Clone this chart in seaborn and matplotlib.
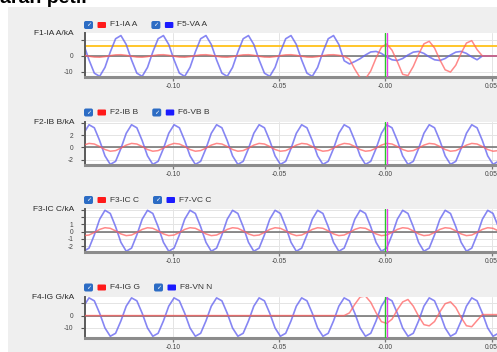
import numpy as np
import matplotlib
matplotlib.use("Agg")
import matplotlib.pyplot as plt
import seaborn as sns
from matplotlib.patches import FancyBboxPatch, Rectangle
from matplotlib.transforms import IdentityTransform, offset_copy

W, H = 497, 352

# ------------------------------------------------------------------
# Data (sample step 2.5 ms, 80 samples)
# ------------------------------------------------------------------
t_start = -0.144375
t_step = 0.0025
time_s = t_start + t_step * np.arange(80)

xticks = [-0.10, -0.05, 0.0, 0.05]
xtick_labels = ["-0.10", "-0.05", "-0.00", "0.05"]
cursor_t = 0.0
ia_pickup = 6.3  # yellow level in the F1 panel

ia_f1 = [
    0.8, 0.4, -0.2, -0.7, -0.8, -0.4, 0.2, 0.7,
    0.8, 0.4, -0.2, -0.7, -0.8, -0.4, 0.2, 0.7,
    0.8, 0.4, -0.2, -0.7, -0.8, -0.4, 0.2, 0.7,
    0.8, 0.4, -0.2, -0.7, -0.8, -0.4, 0.2, 0.7,
    0.8, 0.4, -0.2, -0.7, -0.8, -0.4, 0.2, 0.7,
    0.8, 0.4, -0.2, -0.7, -0.8, -0.4, 0.2, 0.7,
    0.8, 0.4, -0.2, -2.0, -8.3, -13.7, -14.4, -9.4,
    -1.3, 5.5, 7.5, 3.6, -3.6, -11.5, -12.3, -6.6,
    1.1, 7.6, 9.2, 5.0, -2.4, -8.7, -10.1, -5.8,
    1.7, 8.1, 9.6, 4.0, 0.0, 0.0, 0.0, 0.0,
]
va_f5 = [
    12.8, 7.2, -2.5, -10.8, -12.8, -7.2, 2.5, 10.8,
    12.8, 7.2, -2.5, -10.8, -12.8, -7.2, 2.5, 10.8,
    12.8, 7.2, -2.5, -10.8, -12.8, -7.2, 2.5, 10.8,
    12.8, 7.2, -2.5, -10.8, -12.8, -7.2, 2.5, 10.8,
    12.8, 7.2, -2.5, -10.8, -12.8, -7.2, 2.5, 10.8,
    12.8, 7.2, -2.5, -10.8, -12.8, -7.2, 2.5, 10.8,
    12.8, 7.2, -3.0, -5.0, -3.5, -1.7, 0.6, 2.5,
    2.85, 1.6, -0.6, -2.4, -2.85, -1.6, 0.6, 2.4,
    2.85, 1.6, -0.6, -2.4, -2.85, -1.6, 0.6, 2.4,
    2.85, 1.6, -0.6, -2.4, 0.0, 0.0, 0.0, 0.0,
]
ib_f2 = [
    -0.13, 0.36, 0.64, 0.54, 0.13, -0.36, -0.64, -0.54,
    -0.13, 0.36, 0.64, 0.54, 0.13, -0.36, -0.64, -0.54,
    -0.13, 0.36, 0.64, 0.54, 0.13, -0.36, -0.64, -0.54,
    -0.13, 0.36, 0.64, 0.54, 0.13, -0.36, -0.64, -0.54,
    -0.13, 0.36, 0.64, 0.54, 0.13, -0.36, -0.64, -0.54,
    -0.13, 0.36, 0.64, 0.54, 0.13, -0.36, -0.64, -0.54,
    -0.13, 0.36, 0.64, 0.54, 0.13, -0.36, -0.64, -0.54,
    -0.13, 0.36, 0.64, 0.54, 0.13, -0.36, -0.64, -0.54,
    -0.13, 0.36, 0.64, 0.54, 0.13, -0.36, -0.64, -0.54,
    -0.13, 0.36, 0.64, 0.54, 0.13, -0.36, -0.64, -0.54,
]
vb_f6 = [
    -0.2, 2.3, 3.7, 3.2, 1.1, -1.4, -2.8, -2.3,
    -0.2, 2.3, 3.7, 3.2, 1.1, -1.4, -2.8, -2.3,
    -0.2, 2.3, 3.7, 3.2, 1.1, -1.4, -2.8, -2.3,
    -0.2, 2.3, 3.7, 3.2, 1.1, -1.4, -2.8, -2.3,
    -0.2, 2.3, 3.7, 3.2, 1.1, -1.4, -2.8, -2.3,
    -0.2, 2.3, 3.7, 3.2, 1.1, -1.4, -2.8, -2.3,
    -0.2, 2.3, 3.7, 3.2, 1.1, -1.4, -2.8, -2.3,
    -0.2, 2.3, 3.7, 3.2, 1.1, -1.4, -2.8, -2.3,
    -0.2, 2.3, 3.7, 3.2, 1.1, -1.4, -2.8, -2.3,
    -0.2, 2.3, 3.7, 3.2, 1.1, -1.4, -2.8, -2.3,
]
ic_f3 = [
    -0.31, -0.54, -0.46, -0.11, 0.31, 0.54, 0.46, 0.11,
    -0.31, -0.54, -0.46, -0.11, 0.31, 0.54, 0.46, 0.11,
    -0.31, -0.54, -0.46, -0.11, 0.31, 0.54, 0.46, 0.11,
    -0.31, -0.54, -0.46, -0.11, 0.31, 0.54, 0.46, 0.11,
    -0.31, -0.54, -0.46, -0.11, 0.31, 0.54, 0.46, 0.11,
    -0.31, -0.54, -0.46, -0.11, 0.31, 0.54, 0.46, 0.11,
    -0.31, -0.54, -0.46, -0.11, 0.31, 0.54, 0.46, 0.11,
    -0.31, -0.54, -0.46, -0.11, 0.31, 0.54, 0.46, 0.11,
    -0.31, -0.54, -0.46, -0.11, 0.31, 0.54, 0.46, 0.11,
    -0.31, -0.54, -0.46, -0.11, 0.31, 0.54, 0.46, 0.11,
]
vc_f7 = [
    -1.46, -2.68, -2.25, -0.44, 1.70, 2.92, 2.49, 0.68,
    -1.46, -2.68, -2.25, -0.44, 1.70, 2.92, 2.49, 0.68,
    -1.46, -2.68, -2.25, -0.44, 1.70, 2.92, 2.49, 0.68,
    -1.46, -2.68, -2.25, -0.44, 1.70, 2.92, 2.49, 0.68,
    -1.46, -2.68, -2.25, -0.44, 1.70, 2.92, 2.49, 0.68,
    -1.46, -2.68, -2.25, -0.44, 1.70, 2.92, 2.49, 0.68,
    -1.46, -2.68, -2.25, -0.44, 1.70, 2.92, 2.49, 0.68,
    -1.46, -2.68, -2.25, -0.44, 1.70, 2.92, 2.49, 0.68,
    -1.46, -2.68, -2.25, -0.44, 1.70, 2.92, 2.49, 0.68,
    -1.46, -2.68, -2.25, -0.44, 1.70, 2.92, 2.49, 0.68,
]
ig_f4 = [
    0.0, 0.0, 0.0, 0.0, 0.0, 0.0, 0.0, 0.0,
    0.0, 0.0, 0.0, 0.0, 0.0, 0.0, 0.0, 0.0,
    0.0, 0.0, 0.0, 0.0, 0.0, 0.0, 0.0, 0.0,
    0.0, 0.0, 0.0, 0.0, 0.0, 0.0, 0.0, 0.0,
    0.0, 0.0, 0.0, 0.0, 0.0, 0.0, 0.0, 0.0,
    0.0, 0.0, 0.0, 0.0, 0.0, 0.0, 0.0, 0.0,
    0.0, 0.0, 0.0, 2.2, 9.1, 15.0, 15.8, 10.7,
    2.3, -4.9, -6.3, -2.9, 4.7, 11.0, 13.0, 7.6,
    -0.5, -7.3, -8.3, -4.8, 3.0, 9.6, 11.1, 6.5,
    -1.5, -8.2, -9.0, -4.0, 0.8, 0.8, 0.8, 0.8,
]
vn_f8 = [
    -4.3, 7.6, 14.3, 11.9, 1.9, -10.0, -16.7, -14.3,
    -4.3, 7.6, 14.3, 11.9, 1.9, -10.0, -16.7, -14.3,
    -4.3, 7.6, 14.3, 11.9, 1.9, -10.0, -16.7, -14.3,
    -4.3, 7.6, 14.3, 11.9, 1.9, -10.0, -16.7, -14.3,
    -4.3, 7.6, 14.3, 11.9, 1.9, -10.0, -16.7, -14.3,
    -4.3, 7.6, 14.3, 11.9, 1.9, -10.0, -16.7, -14.3,
    -4.3, 7.6, 14.3, 11.9, 1.9, -10.0, -16.7, -14.3,
    -4.3, 7.6, 14.3, 11.9, 1.9, -10.0, -16.7, -14.3,
    -4.3, 7.6, 14.3, 11.9, 1.9, -10.0, -16.7, -14.3,
    -4.3, 7.6, 14.3, 11.9, 1.9, -10.0, -16.7, -14.3,
]

# ------------------------------------------------------------------
# Panel layout (pixel boxes in the 497x352 image)
# ------------------------------------------------------------------
panels = [
    dict(top=33, bottom=77, legend_y=25, ylim=(-13.2, 14.4),
         yticks=[-10, 0, 10], yticklabels=["-10", "0", ""],
         ylabel="F1-IA A/kA", names=("F1-IA A", "F5-VA A"),
         current=ia_f1, voltage=va_f5, pickup=True),
    dict(top=122, bottom=165, legend_y=112.5, ylim=(-2.9, 4.15),
         yticks=[-2, 0, 2, 4], yticklabels=["-2", "0", "2", ""],
         ylabel="F2-IB B/kA", names=("F2-IB B", "F6-VB B"),
         current=ib_f2, voltage=vb_f6, pickup=False),
    dict(top=209, bottom=252, legend_y=200, ylim=(-2.78, 3.1),
         yticks=[-2, -1, 0, 1, 2, 3], yticklabels=["-2", "-1", "0", "1", "", ""],
         ylabel="F3-IC C/kA", names=("F3-IC C", "F7-VC C"),
         current=ic_f3, voltage=vc_f7, pickup=False),
    dict(top=297, bottom=338, legend_y=287.5, ylim=(-18.1, 15.0),
         yticks=[-10, 0, 10], yticklabels=["-10", "0", ""],
         ylabel="F4-IG G/kA", names=("F4-IG G", "F8-VN N"),
         current=ig_f4, voltage=vn_f8, pickup=False),
]

sns.set_style("white")
plt.rcParams["font.family"] = ["Liberation Sans", "DejaVu Sans"]

fig = plt.figure(figsize=(W / 100, H / 100), dpi=100, facecolor="white")
fig.add_artist(Rectangle((8, 0), W - 8, H - 7, transform=IdentityTransform(),
                         fc="#efefef", ec="none", zorder=-10))
fig.text(89 / W, 1 - 3.3 / H, "sambaran petir", ha="right", va="baseline",
         fontsize=14, fontweight="bold", color="black")


def px_box(x, yc, w, h, color, r):
    fig.add_artist(FancyBboxPatch((x, H - yc - h / 2), w, h,
                                  boxstyle=f"round,pad=0,rounding_size={r}",
                                  transform=IdentityTransform(), fc=color, ec="none"))


def checkbox(x, yc):
    px_box(x, yc, 9, 8, "#2c6cc4", 1.8)
    fig.text((x + 4.5) / W, 1 - yc / H, "\u2713", color="white", fontsize=4.5,
             ha="center", va="center", family=["DejaVu Sans"])


renderer = fig.canvas.get_renderer()

for p in panels:
    ax = fig.add_axes([84.5 / W, 1 - p["bottom"] / H, (W - 84.5) / W,
                       (p["bottom"] - p["top"]) / H])
    ax.set_facecolor("white")
    ax.axhline(0, color="#6e6e6e", lw=1.1, zorder=1.5)
    if p["pickup"]:
        ax.axhline(ia_pickup, color="#ffc21a", lw=1.3, zorder=1.6)
    sns.lineplot(x=time_s, y=p["voltage"], ax=ax, color="#6464f0", lw=1.2,
                 alpha=0.78, estimator=None, sort=False, zorder=2)
    sns.lineplot(x=time_s, y=p["current"], ax=ax, color="#ff6262", lw=1.1,
                 alpha=0.75, estimator=None, sort=False, zorder=3)
    ax.axvline(cursor_t, color="#28c828", lw=1.0, zorder=5)
    mag = ax.axvline(cursor_t, color="#e83ce8", lw=1.0, zorder=6)
    mag.set_transform(offset_copy(ax.get_xaxis_transform(), fig=fig, x=1.2, units="dots"))

    ax.set_xlim(-0.1415, 0.0525)
    ax.set_ylim(*p["ylim"])
    ax.set_xticks(xticks)
    ax.set_xticklabels(xtick_labels)
    ax.set_yticks(p["yticks"])
    ax.set_yticklabels(p["yticklabels"])
    ax.set_xlabel("")
    ax.set_ylabel("")
    ax.grid(True, color="#e4e4e4", lw=0.7)
    ax.set_axisbelow(True)
    for side in ("top", "right"):
        ax.spines[side].set_visible(False)
    ax.spines["left"].set_color("#5a5a5a")
    ax.spines["left"].set_linewidth(1.4)
    ax.spines["bottom"].set_color("#8c8c8c")
    ax.spines["bottom"].set_linewidth(2.2)
    ax.tick_params(bottom=True, left=True, direction="out", labelsize=4.8, labelcolor="#444")
    ax.tick_params(axis="y", length=3, width=0.8, color="#555", pad=5)
    ax.tick_params(axis="x", length=3, width=0.9, color="#777", pad=1.5)

    # y label above the axis
    fig.text(74 / W, 1 - (p["top"] + 0.5) / H, p["ylabel"], ha="right", va="center",
             fontsize=6, color="#2a2a2a")

    # legend row: checkbox, swatch, name (x2)
    yc = p["legend_y"]
    checkbox(84, yc)
    px_box(97.5, yc, 8.5, 6, "#ff1a1a", 1.0)
    t1 = fig.text(110 / W, 1 - yc / H, p["names"][0], fontsize=6, va="center", color="#333")
    x2 = t1.get_window_extent(renderer).x1 + 14
    checkbox(x2, yc)
    px_box(x2 + 13.5, yc, 8.5, 6, "#1a1aff", 1.0)
    fig.text((x2 + 26) / W, 1 - yc / H, p["names"][1], fontsize=6, va="center", color="#333")

fig.savefig("out.png", dpi=100)
plt.close(fig)
